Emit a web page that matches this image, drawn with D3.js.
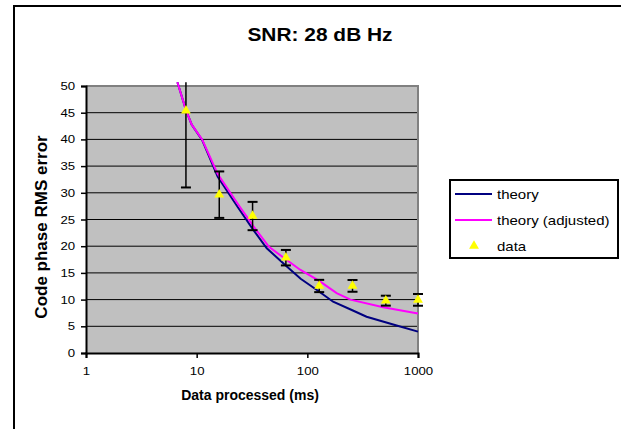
<!DOCTYPE html>
<html lang="en">
<head>
  <meta charset="UTF-8">
  <title>SNR: 28 dB Hz</title>
  <script src="https://d3js.org/d3.v7.min.js"></script>
  <style>
    body { margin: 0; background: #fff; }
    text { font-family: Arial, "Liberation Sans", sans-serif; }
  </style>
</head>
<body>
  <svg width="621" height="429"></svg>

  <script>
    // Chart data
    const xTicks = [1, 10, 100, 1000];
    const yTicks = [0, 5, 10, 15, 20, 25, 30, 35, 40, 45, 50];

    const theoryX = [6.7, 8, 9, 11.2, 15.5, 23.4, 32.6, 43, 63, 87, 122, 171, 255, 343, 641, 1000];
    const theoryY = [50.7, 45.5, 42.8, 39.9, 33.0, 27.4, 23.0, 19.6, 16.5, 13.9, 11.8, 9.6, 8.0, 6.8, 5.15, 4.0];

    const adjustedX = [6.7, 8, 9, 11.2, 15.5, 23.4, 32.6, 45, 57, 86, 130, 184, 245, 485, 1000];
    const adjustedY = [50.7, 45.5, 42.8, 40.0, 33.5, 28.0, 23.7, 19.9, 18.3, 15.6, 13.4, 11.2, 10.0, 8.55, 7.4];

    const dataX = [8, 16, 32, 64, 128, 256, 512, 1000];
    const dataY = [45.4, 29.65, 25.65, 17.85, 12.55, 12.57, 9.8, 9.95];
    const dataErr = [14.4, 4.35, 2.65, 1.45, 1.15, 1.1, 0.93, 1.1];

    const legendLabels = ["theory", "theory (adjusted)", "data"];
    const colors = { theory: "#000080", adjusted: "#ff00ff", data: "#ffff00" };

    const svg = d3.select("svg");
    const margin = { top: 86, left: 86 },
          width = 332,
          height = 267;

    // outer chart frame (runs off the right and bottom edges)
    svg.append("rect")
      .attr("x", 14).attr("y", 6)
      .attr("width", 640).attr("height", 450)
      .attr("fill", "none").attr("stroke", "#000").attr("stroke-width", 2);

    // title
    svg.append("text")
      .attr("transform", "translate(320,41) scale(1.1,1)")
      .attr("text-anchor", "middle")
      .style("font-size", "19px")
      .style("font-weight", "bold")
      .text("SNR: 28 dB Hz");

    const g = svg.append("g").attr("transform", `translate(${margin.left},${margin.top})`);

    const x = d3.scaleLog().domain([1, 1000]).range([0, width]);
    const y = d3.scaleLinear().domain([0, 50]).range([height, 0]);
    const yMax = 50.7;

    // plot area
    g.append("rect").attr("width", width).attr("height", height).attr("fill", "#c0c0c0");

    // gridlines
    g.append("g").selectAll("line")
      .data(yTicks.filter(d => d > 0 && d < 50))
      .join("line")
      .attr("x1", 0).attr("x2", width)
      .attr("y1", d => y(d)).attr("y2", d => y(d))
      .attr("stroke", "#000").attr("stroke-width", 1);

    // gray top and right border
    g.append("path")
      .attr("d", `M0,${y(50)}H${width}V${height}`)
      .attr("fill", "none").attr("stroke", "#808080").attr("stroke-width", 2);

    // lines
    const line = d3.line().x(d => x(d[0])).y(d => y(d[1]));
    g.append("path")
      .datum(d3.zip(theoryX, theoryY))
      .attr("fill", "none").attr("stroke", colors.theory).attr("stroke-width", 2)
      .attr("d", line);
    g.append("path")
      .datum(d3.zip(adjustedX, adjustedY))
      .attr("fill", "none").attr("stroke", colors.adjusted).attr("stroke-width", 2)
      .attr("d", line);

    // error bars
    const pts = dataX.map((d, i) => ({ x: d, y: dataY[i], lo: dataY[i] - dataErr[i], hi: dataY[i] + dataErr[i] }));
    const eb = g.append("g").selectAll("g").data(pts).join("g")
      .attr("transform", d => `translate(${x(d.x)},0)`);
    eb.append("line")
      .attr("y1", d => y(d.lo)).attr("y2", d => y(Math.min(d.hi, yMax)))
      .attr("stroke", "#000").attr("stroke-width", 1.5);
    eb.append("line")
      .attr("x1", -5).attr("x2", 5)
      .attr("y1", d => y(d.lo)).attr("y2", d => y(d.lo))
      .attr("stroke", "#000").attr("stroke-width", 2);
    eb.filter(d => d.hi <= yMax).append("line")
      .attr("x1", -5).attr("x2", 5)
      .attr("y1", d => y(d.hi)).attr("y2", d => y(d.hi))
      .attr("stroke", "#000").attr("stroke-width", 2);

    // markers
    const tri = d3.symbol().type(d3.symbolTriangle).size(42);
    g.append("g").selectAll("path").data(pts).join("path")
      .attr("transform", d => `translate(${x(d.x)},${y(d.y)})`)
      .attr("d", tri)
      .attr("fill", colors.data);

    // axes
    const xAxis = g.append("g")
      .attr("transform", `translate(0,${height})`)
      .call(d3.axisBottom(x).tickValues(xTicks).tickFormat(d3.format("d")).tickSize(5).tickPadding(9));
    xAxis.select(".domain").attr("stroke-width", 2);
    xAxis.selectAll(".tick line").attr("stroke-width", 1.5);
    xAxis.selectAll(".tick text")
      .attr("transform", "scale(1.2,1)")
      .style("font-size", "11px").style("font-family", "Arial, 'Liberation Sans', sans-serif");

    const yAxis = g.append("g")
      .call(d3.axisLeft(y).tickValues(yTicks).tickSize(5).tickPadding(4));
    yAxis.select(".domain").attr("stroke-width", 2);
    yAxis.selectAll(".tick line").attr("stroke-width", 1.5);
    yAxis.selectAll(".tick text")
      .attr("transform", "scale(1.2,1)")
      .style("font-size", "11px").style("font-family", "Arial, 'Liberation Sans', sans-serif");

    // axis titles
    svg.append("text")
      .attr("x", 250).attr("y", 400)
      .attr("text-anchor", "middle")
      .style("font-size", "14px").style("font-weight", "bold")
      .text("Data processed (ms)");
    svg.append("text")
      .attr("transform", "translate(47,227) rotate(-90)")
      .attr("text-anchor", "middle")
      .style("font-size", "17px").style("font-weight", "bold")
      .text("Code phase RMS error");

    // legend
    const legend = svg.append("g").attr("transform", "translate(450,180)");
    legend.append("rect")
      .attr("width", 168).attr("height", 78)
      .attr("fill", "#fff").attr("stroke", "#000").attr("stroke-width", 2);
    const rows = legend.selectAll("g.row").data(legendLabels).join("g")
      .attr("class", "row")
      .attr("transform", (d, i) => `translate(0,${14 + i * 26})`);
    rows.filter((d, i) => i < 2).append("line")
      .attr("x1", 5).attr("x2", 42)
      .attr("stroke", (d, i) => i === 0 ? colors.theory : colors.adjusted)
      .attr("stroke-width", 2);
    rows.filter((d, i) => i === 2).append("path")
      .attr("transform", "translate(24,0)")
      .attr("d", tri).attr("fill", colors.data);
    rows.append("text")
      .attr("transform", "translate(47,5) scale(1.2,1)")
      .style("font-size", "12.5px")
      .text(d => d);
  </script>
</body>
</html>
